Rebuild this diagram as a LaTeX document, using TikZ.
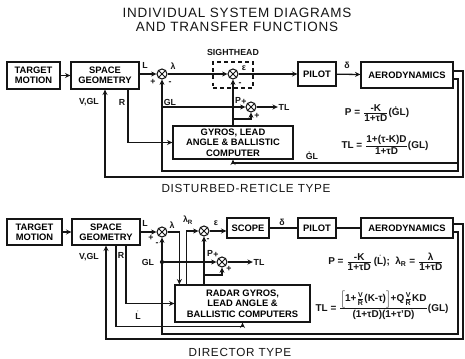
\documentclass[tikz,border=0pt]{standalone}
\usepackage{fontspec}
\setmainfont{Liberation Sans}
\newfontfamily\titlefont[LetterSpace=6]{Liberation Sans}
\usepackage{amsmath}
\usepackage{xcolor}
\definecolor{cInk}{HTML}{151515}
\usepackage{tikz}
\usetikzlibrary{arrows.meta,calc}
\newcommand\fr[2]{$\genfrac{}{}{0.7pt}{}{\hbox{#1}}{\hbox{#2}}$}
\newcommand\sfr[2]{$\genfrac{}{}{0.5pt}{}{\hbox{\fontsize{6}{6}\selectfont #1}}{\hbox{\fontsize{6}{6}\selectfont #2}}$}
\newcommand\dt[1]{$\dot{\hbox{#1}}$}
\tikzset{
  sys-box/.style={draw=cInk,line width=1.1pt,align=center,inner sep=1pt,
    font=\bfseries\fontsize{8}{8.8}\selectfont},
  sum-node/.style={draw=cInk,line width=0.9pt,circle,minimum size=3mm,inner sep=0pt,fill=white,
    path picture={\draw[cInk,line width=0.8pt]
      (path picture bounding box.north west) -- (path picture bounding box.south east)
      (path picture bounding box.north east) -- (path picture bounding box.south west);}},
  sig-line/.style={draw=cInk,line width=1.1pt},
  sig-arrow/.style={sig-line,-{Stealth[length=1.6mm,width=1.5mm]}},
  tag/.style={text=cInk,inner sep=0.5pt,font=\bfseries\fontsize{7.5}{8}\selectfont},
  eqn/.style={text=cInk,inner sep=0pt,font=\bfseries\fontsize{8.5}{9}\selectfont},
  title-text/.style={text=cInk,font=\titlefont\fontsize{11.5}{13}\selectfont},
  caption-text/.style={text=cInk,font=\titlefont\fontsize{10}{12}\selectfont},
}
\begin{document}
\begin{tikzpicture}[x=0.03cm,y=-0.03cm]
  \useasboundingbox (0,0) rectangle (465,359);
  \node[title-text] (head1) at (237,13) {INDIVIDUAL SYSTEM DIAGRAMS};
  \node[title-text] (head2) at (237,27) {AND TRANSFER FUNCTIONS};

  % disturbed-reticle type
  \node[sys-box,minimum width=1.59cm,minimum height=0.81cm] (tgt) at (33.5,75.5) {TARGET\\MOTION};
  \node[sys-box,minimum width=2.04cm,minimum height=0.81cm] (geo) at (105,75.5) {SPACE\\GEOMETRY};
  \node[sys-box,dashed,minimum width=1.2cm,minimum height=0.78cm] (sight) at (233,75) {};
  \node[tag] (sightlbl) at (233,52) {SIGHTHEAD};
  \node[sum-node] (j1) at (162,74) {};
  \node[sum-node] (js) at (233,74) {};
  \node[sum-node] (jt) at (251,107) {};
  \node[sys-box,minimum width=1.14cm,minimum height=0.72cm] (pilot) at (317,74) {PILOT};
  \node[sys-box,minimum width=2.76cm,minimum height=0.78cm] (aero) at (407,75) {AERODYNAMICS};
  \node[sys-box,minimum width=3.6cm,minimum height=0.99cm] (gyro) at (233,142.5) {GYROS, LEAD\\ANGLE \& BALLISTIC\\COMPUTER};
  \node[tag] (tl) at (284,107) {TL};
  \coordinate (gdot) at (458,163);
  \coordinate (glx) at (162,107);
  \coordinate (pbr) at (233,119);

  \draw[sig-arrow] (tgt) -- (geo);
  \draw[sig-arrow] (geo.east |- j1) -- (j1);
  \draw[sig-arrow] (j1) -- (js);
  \draw[sig-arrow] (js) -- (js -| pilot.west);
  \draw[sig-arrow] (pilot) -- (aero);
  \draw[sig-arrow] ($(aero.east)+(0,-4)$) -| (463,177) -| (geo.south);
  \draw[sig-arrow] ($(aero.east)+(0,4)$) -| (458,171) -| (j1);
  \draw[sig-arrow] (gdot) -| (gyro.south);
  \draw[sig-arrow] (glx) -- (jt);
  \draw[sig-arrow] (gyro.north) -- (js);
  \draw[sig-arrow] (pbr) -| (jt);
  \draw[sig-arrow] (jt) -- (tl);
  \draw[sig-arrow] ($(geo.south)+(23,0)$) |- (gyro.west);

  \node[tag] at (145,65) {L};
  \node[tag] at (173,66) {λ};
  \node[tag] at (153,82) {+};
  \node[tag] at (170,83) {-};
  \node[tag] at (244,68) {ε};
  \node[tag] at (240,84) {-};
  \node[tag] at (238,100) {P};
  \node[tag] at (244,102) {+};
  \node[tag] at (257,116) {+};
  \node[tag] at (170,102) {GL};
  \node[tag] at (89,102) {V,GL};
  \node[tag] at (122,102) {R};
  \node[tag] at (312,156) {ĠL};
  \node[tag] at (347,65) {δ};

  \node[eqn] (eqp) at (377,113) {P = \fr{-K}{1+τD}(ĠL)};
  \node[eqn] (eqtl) at (385,145) {TL = \fr{1+(τ-K)D}{1+τD}(GL)};
  \node[caption-text] (cap1) at (246,188) {DISTURBED-RETICLE TYPE};

  % director type
  \node[sys-box,minimum width=1.65cm,minimum height=0.78cm] (tgt2) at (34.5,232) {TARGET\\MOTION};
  \node[sys-box,minimum width=2.04cm,minimum height=0.78cm] (geo2) at (106,232) {SPACE\\GEOMETRY};
  \node[sum-node] (k1) at (162,232) {};
  \node[sum-node] (k2) at (204,231) {};
  \node[sum-node] (kt) at (222,262) {};
  \node[sys-box,minimum width=1.26cm,minimum height=0.6cm] (scope) at (248,228) {SCOPE};
  \node[sys-box,minimum width=1.14cm,minimum height=0.6cm] (pilot2) at (317,228) {PILOT};
  \node[sys-box,minimum width=2.76cm,minimum height=0.6cm] (aero2) at (407,228) {AERODYNAMICS};
  \node[sys-box,minimum width=4.05cm,minimum height=1.11cm] (rad) at (242.5,303.5) {RADAR GYROS,\\LEAD ANGLE \&\\BALLISTIC COMPUTERS};
  \node[tag] (tl2) at (259,262) {TL};
  \coordinate (pbr2) at (204,275);
  \coordinate (glx2) at (162,262);

  \draw[sig-arrow] (tgt2) -- (geo2);
  \draw[sig-arrow] (geo2.east |- k1) -- (k1);
  \draw[sig-arrow] (k1) -| ($(rad.north west)+(5,0)$);
  \draw[sig-arrow] ($(rad.north west)+(12,0)$) |- (k2);
  \draw[sig-arrow] (k2) -- (k2 -| scope.west);
  \draw[sig-line] (scope) -- (pilot2);
  \draw[sig-line] (pilot2) -- (aero2);
  \draw[sig-arrow] ($(aero2.east)+(0,-4)$) -| (463,339) -| (geo2.south);
  \draw[sig-arrow] ($(aero2.east)+(0,4)$) -| (458,334) -| (k1);
  \draw[sig-arrow] (rad.north -| k2) -- (k2);
  \draw[sig-arrow] (pbr2) -| (kt);
  \fill[cInk] (glx2) circle[radius=1.8pt];
  \draw[sig-arrow] (glx2) -- (kt);
  \draw[sig-arrow] (kt) -- (tl2);
  \draw[sig-arrow] ($(geo2.south)+(20,0)$) |- (rad.west);
  \draw[sig-arrow] ($(geo2.south)+(10,0)$) |- ($(rad.south)+(0,4)$) -- (rad.south);

  \node[tag] at (145,223) {L};
  \node[tag] at (172,225) {λ};
  \node[tag] at (151,238) {+};
  \node[tag] at (157,244) {-};
  \node[tag] at (188,220) {λ\textsubscript{R}};
  \node[tag] at (216,223) {ε};
  \node[tag] at (208,240) {-};
  \node[tag] at (210,253) {P};
  \node[tag] at (216,255) {+};
  \node[tag] at (229,269) {+};
  \node[tag] at (148,262) {GL};
  \node[tag] at (89,257) {V,GL};
  \node[tag] at (121,255) {R};
  \node[tag] at (138,315) {\dt{L}};
  \node[tag] at (282,222) {δ};

  \node[eqn] (eqp2) at (386,262) {P = \fr{-K}{1+τD}\,(\dt{L}); \ λ\textsubscript{R} = \fr{λ}{1+τD}};
  \node[eqn] (eqtl2) at (382,305) {TL = \fr{$\left[\hbox{1+\sfr{V}{R}(K-τ)}\right]$+Q\sfr{V}{R}KD}{(1+τD)(1+τ'D)}(GL)};
  \node[caption-text] (cap2) at (240,352) {DIRECTOR TYPE};
\end{tikzpicture}
\end{document}
